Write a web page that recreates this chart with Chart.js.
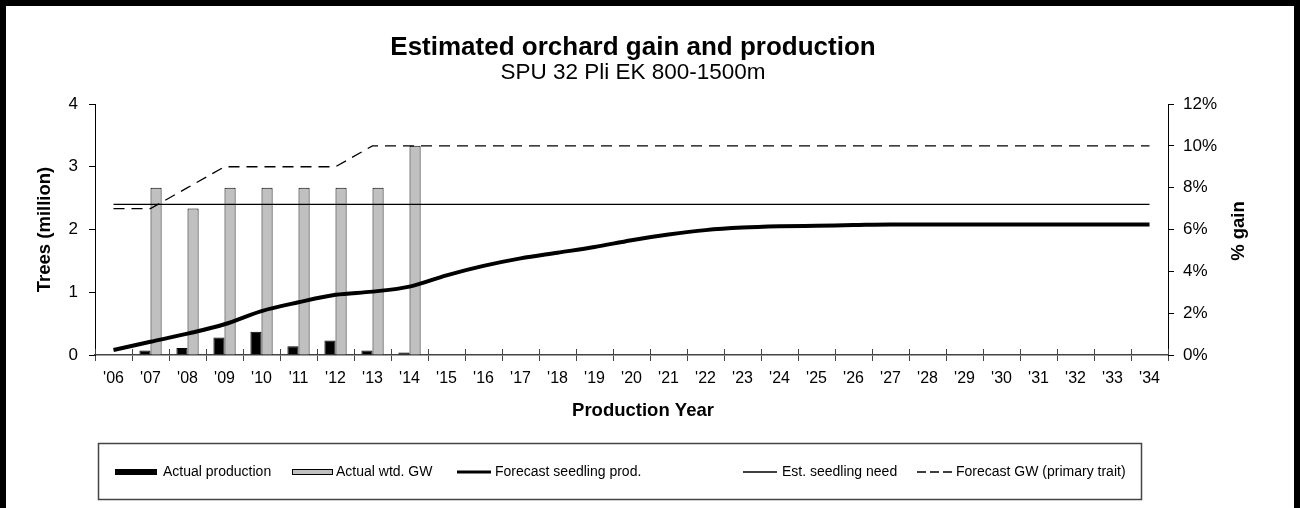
<!DOCTYPE html>
<html>
<head>
<meta charset="utf-8">
<script src="https://cdn.jsdelivr.net/npm/chart.js@4.4.1/dist/chart.umd.min.js"></script>
<style>
html,body{margin:0;padding:0;background:#fff;overflow:hidden;}
#wrap{position:relative;width:1300px;height:508px;}
canvas{display:block;}
</style>
</head>
<body>
<div id="wrap"><canvas id="c" width="1300" height="508"></canvas></div>
<script>
// ---------- data ----------
const categories = ["'06","'07","'08","'09","'10","'11","'12","'13","'14","'15","'16","'17","'18","'19","'20","'21","'22","'23","'24","'25","'26","'27","'28","'29","'30","'31","'32","'33","'34"];
const actualProduction = [null,0.07,0.11,0.28,0.37,0.14,0.23,0.07,0.04,null,null,null,null,null,null,null,null,null,null,null,null,null,null,null,null,null,null,null,null];
const actualWtdGW = [null,8,7,8,8,8,8,8,10,null,null,null,null,null,null,null,null,null,null,null,null,null,null,null,null,null,null,null,null];
const forecastSeedlingProd = [0.08,0.21,0.34,0.49,0.70,0.84,0.96,1.01,1.09,1.27,1.42,1.54,1.63,1.72,1.83,1.92,1.99,2.03,2.05,2.06,2.07,2.08,2.08,2.08,2.08,2.08,2.08,2.08,2.08];
const estSeedlingNeed = [2.4,2.4,2.4,2.4,2.4,2.4,2.4,2.4,2.4,2.4,2.4,2.4,2.4,2.4,2.4,2.4,2.4,2.4,2.4,2.4,2.4,2.4,2.4,2.4,2.4,2.4,2.4,2.4,2.4];
const forecastGW = [7,7,8,9,9,9,9,10,10,10,10,10,10,10,10,10,10,10,10,10,10,10,10,10,10,10,10,10,10];
const seriesNames = ["Actual production","Actual wtd. GW","Forecast seedling prod.","Est. seedling need","Forecast GW (primary trait)"];
const titleText = "Estimated orchard gain and production";
const subtitleText = "SPU 32 Pli EK 800-1500m";
const leftAxisTitle = "Trees (million)";
const rightAxisTitle = "% gain";
const xAxisTitle = "Production Year";

const FONT = "'Liberation Sans', Arial, Helvetica, sans-serif";
Chart.defaults.font.family = FONT;
Chart.defaults.color = '#000';

// ---------- decoration plugin ----------
const decor = {
  id: 'decor',
  beforeDraw(chart) {
    const ctx = chart.ctx;
    ctx.save();
    ctx.fillStyle = '#fff';
    ctx.fillRect(0, 0, chart.width, chart.height);
    ctx.fillStyle = '#000';
    ctx.fillRect(0, 0, chart.width, 6);
    ctx.fillRect(0, 0, 6, chart.height);
    ctx.fillRect(chart.width - 6, 0, 6, chart.height);
    ctx.restore();
  },
  afterDraw(chart) {
    const ctx = chart.ctx;
    const xs = chart.scales.x;
    ctx.save();
    // upward part of x tick marks (crossing the axis)
    const n = categories.length;
    const step = (xs.right - xs.left) / n;
    ctx.strokeStyle = '#444';
    ctx.lineWidth = 1;
    ctx.beginPath();
    for (let i = 0; i <= n; i++) {
      const x = Math.round(xs.left + i * step) + 0.5;
      ctx.moveTo(x, xs.top - 6);
      ctx.lineTo(x, xs.top);
    }
    ctx.stroke();

    // titles
    ctx.fillStyle = '#000';
    ctx.textAlign = 'center';
    ctx.textBaseline = 'middle';
    ctx.font = 'bold 26px ' + FONT;
    ctx.fillText(titleText, 633, 48);
    ctx.font = '22.5px ' + FONT;
    ctx.fillText(subtitleText, 633, 73);

    // x axis title
    ctx.font = 'bold 18.5px ' + FONT;
    ctx.fillText(xAxisTitle, 643, 411);

    // right axis title (reads bottom to top)
    ctx.save();
    ctx.translate(1239, 231);
    ctx.rotate(-Math.PI / 2);
    ctx.fillText(rightAxisTitle, 0, 0);
    ctx.restore();

    // legend
    ctx.strokeStyle = '#444';
    ctx.lineWidth = 1.5;
    ctx.strokeRect(98.5, 443.5, 1043, 56);
    const ly = 472;
    ctx.font = '14px ' + FONT;
    ctx.textAlign = 'left';
    ctx.textBaseline = 'middle';
    // Actual production
    ctx.fillStyle = '#000';
    ctx.fillRect(115, ly - 3, 42, 6);
    ctx.fillText(seriesNames[0], 163, ly);
    // Actual wtd. GW
    ctx.fillStyle = '#c0c0c0';
    ctx.fillRect(292, ly - 3, 41, 6);
    ctx.strokeStyle = '#000';
    ctx.lineWidth = 1;
    ctx.strokeRect(292.5, ly - 2.5, 40, 5);
    ctx.fillStyle = '#000';
    ctx.fillText(seriesNames[1], 336, ly);
    // Forecast seedling prod.
    ctx.lineWidth = 3;
    ctx.beginPath(); ctx.moveTo(457, ly); ctx.lineTo(491, ly); ctx.stroke();
    ctx.fillText(seriesNames[2], 495, ly);
    // Est. seedling need
    ctx.lineWidth = 1.3;
    ctx.beginPath(); ctx.moveTo(743, ly); ctx.lineTo(777, ly); ctx.stroke();
    ctx.fillText(seriesNames[3], 782, ly);
    // Forecast GW
    ctx.setLineDash([9, 4]);
    ctx.beginPath(); ctx.moveTo(917, ly); ctx.lineTo(953, ly); ctx.stroke();
    ctx.setLineDash([]);
    ctx.fillText(seriesNames[4], 956, ly);
    ctx.restore();
  }
};

new Chart(document.getElementById('c'), {
  type: 'bar',
  data: {
    labels: categories,
    datasets: [
      {
        type: 'bar', label: seriesNames[0], data: actualProduction, yAxisID: 'y',
        backgroundColor: '#000', borderColor: '#000', borderWidth: 1,
        categoryPercentage: 0.6, barPercentage: 1.0, order: 2
      },
      {
        type: 'bar', label: seriesNames[1], data: actualWtdGW, yAxisID: 'y2',
        backgroundColor: '#c0c0c0', borderColor: '#000', borderWidth: 1,
        categoryPercentage: 0.6, barPercentage: 1.0, order: 2
      },
      {
        type: 'line', label: seriesNames[2], data: forecastSeedlingProd, yAxisID: 'y',
        borderColor: '#000', borderWidth: 4, pointRadius: 0, fill: false,
        cubicInterpolationMode: 'monotone', order: 0
      },
      {
        type: 'line', label: seriesNames[3], data: estSeedlingNeed, yAxisID: 'y',
        borderColor: '#000', borderWidth: 1.3, pointRadius: 0, fill: false, order: 0
      },
      {
        type: 'line', label: seriesNames[4], data: forecastGW, yAxisID: 'y2',
        borderColor: '#000', borderWidth: 1.3, borderDash: [11, 7], pointRadius: 0,
        fill: false, tension: 0, order: 0
      }
    ]
  },
  options: {
    responsive: false,
    devicePixelRatio: 1,
    animation: false,
    layout: { padding: { top: 104, left: 0, right: 0, bottom: 0 } },
    plugins: { legend: { display: false }, title: { display: false }, tooltip: { enabled: false } },
    scales: {
      x: {
        position: 'bottom',
        offset: true,
        grid: { display: true, offset: true, drawOnChartArea: false, drawTicks: true, tickLength: 6, color: '#444', lineWidth: 1 },
        border: { display: true, color: '#444', width: 1.5 },
        ticks: { autoSkip: false, maxRotation: 0, minRotation: 0, padding: 8, font: { size: 16 }, color: '#000' },
        afterFit(scale) { scale.height = 153; }
      },
      y: {
        position: 'left',
        min: 0, max: 4,
        grid: { drawOnChartArea: false, drawTicks: true, tickLength: 6, color: '#000' },
        border: { display: true, color: '#000', width: 1 },
        ticks: { stepSize: 1, padding: 11, font: { size: 17 }, color: '#000' },
        title: { display: true, text: leftAxisTitle, font: { size: 18.5, weight: 'bold' }, padding: { top: 34, bottom: 0 }, color: '#000' },
        afterFit(scale) { scale.width = 95; }
      },
      y2: {
        position: 'right',
        min: 0, max: 12,
        grid: { drawOnChartArea: false, drawTicks: true, tickLength: 6, color: '#000' },
        border: { display: true, color: '#000', width: 1 },
        ticks: { stepSize: 2, padding: 9, font: { size: 17 }, color: '#000', callback: v => v + '%' },
        afterFit(scale) { scale.width = 132; }
      }
    }
  },
  plugins: [decor]
});
</script>
</body>
</html>
